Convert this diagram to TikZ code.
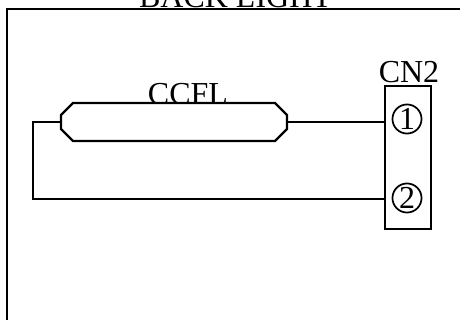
\documentclass[tikz,border=0pt]{standalone}
\usepackage{fontspec}
\setmainfont{Liberation Serif}
\usetikzlibrary{calc}
\tikzset{
  wire/.style={line width=1.6pt,black},
  lbl/.style={inner sep=0pt,font=\fontsize{24}{24}\selectfont,anchor=base},
  lamp/.style={rectangle,inner sep=0pt,outer sep=0pt,minimum width=169.5pt,minimum height=28.5pt},
  lampbody/.style={draw,line width=1.6pt,fill=white,line join=miter},
  pin/.style={circle,draw,line width=1.3pt,inner sep=0pt,minimum size=21.8pt,font=\fontsize{24}{24}\selectfont}
}
\begin{document}
\begin{tikzpicture}[x=0.75pt,y=-0.75pt]
\useasboundingbox (0,0) rectangle (460,320);
\clip (0,0) rectangle (460,320);
\node[lbl] (title) at (235.5,8) {BACK LIGHT};
\coordinate (fa) at (7,320);
\coordinate (fb) at (7,9);
\coordinate (fc) at (460,9);
\draw[wire,line width=1.8pt,line join=miter] (fa) -- (fb) -- (fc);
\node[lbl] (ccfl) at (188,105) {CCFL};
\node[lamp] (cc) at (174,122) {};
\draw[lampbody] ($(cc.north west)+(12,0)$) -- ($(cc.north east)+(-12,0)$) -- ($(cc.north east)+(0,12)$) -- ($(cc.south east)+(0,-12)$) -- ($(cc.south east)+(-12,0)$) -- ($(cc.south west)+(12,0)$) -- ($(cc.south west)+(0,-12)$) -- ($(cc.north west)+(0,12)$) -- cycle;
\node[lbl] (cn) at (409,83) {CN2};
\node[draw,line width=1.8pt,inner sep=0pt,minimum width=34.5pt,minimum height=107pt] (box) at (408,157.5) {};
\node[pin] (p1) at (407,119) {1};
\node[pin] (p2) at (407,198) {2};
\coordinate (t) at (33,122);
\coordinate (b) at (33,199);
\draw[wire] (cc.east) -- (box.west |- cc.east);
\draw[wire,line join=miter] (cc.west) -- (t) -- (b) -- (box.west |- b);
\end{tikzpicture}
\end{document}
